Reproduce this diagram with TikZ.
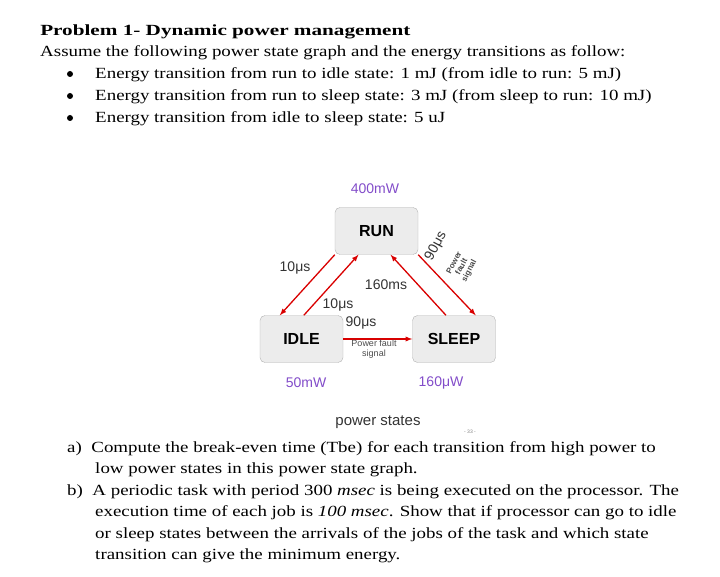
\documentclass[tikz,border=0pt]{standalone}
\usepackage{fontspec}
\setmainfont{Liberation Serif}
\newfontfamily\arialf{Liberation Sans}
\begin{document}
\begin{tikzpicture}[x=1pt,y=-1pt,
  txt/.style={anchor=base west,inner sep=0pt,xscale=1.22,font=\fontsize{15.5}{18}\selectfont},
  state/.style={draw=gray!60,fill=gray!15,rounded corners=5pt,minimum width=83pt,minimum height=47pt,font=\arialf\bfseries\fontsize{16}{18}\selectfont},
  pw/.style={font=\arialf\fontsize{14}{16}\selectfont,text=violet!60!blue!70,inner sep=0pt},
  lab/.style={font=\arialf\fontsize{14}{16}\selectfont,text=black!80,inner sep=0pt},
  pf/.style={font=\arialf\fontsize{9}{10}\selectfont,text=black!70,align=center,inner sep=0pt},
  tr/.style={draw=red!85!black,line width=1.3pt,-latex}]
\useasboundingbox (0,0) rectangle (720,577);
\node[txt,font=\bfseries\fontsize{15.5}{18}\selectfont,xscale=1.12] (t0) at (40,36) {Problem 1- Dynamic power management};
\node[txt] (t1) at (40,57) {Assume the following power state graph and the energy transitions as follow:};
\foreach \y/\s [count=\i] in {79/{Energy transition from run to idle state: 1 mJ (from idle to run: 5 mJ)},101/{Energy transition from run to sleep state: 3 mJ (from sleep to run: 10 mJ)},123/{Energy transition from idle to sleep state: 5 uJ}}{
  \node[txt] (b\i) at (95,\y) {\s};
  \fill (70,\y-5) circle (3pt);
}
\node[state] (run) at (376.5,231) {RUN};
\node[state] (idle) at (301.5,339) {IDLE};
\node[state] (sleep) at (454,339) {SLEEP};
\draw[tr] (run.south west) -- ([xshift=20pt]idle.north west);
\draw[tr] ([xshift=44pt]idle.north west) -- ([xshift=-18pt]run.south);
\draw[tr] ([xshift=-8pt]sleep.north) -- ([xshift=14pt]run.south);
\draw[tr] (run.south east) -- ([xshift=-20pt]sleep.north east);
\draw[tr] (idle.east) -- (sleep.west);
\node[pw] (p1) at (375,189) {400mW};
\node[pw] (p2) at (306,383) {50mW};
\node[pw] (p3) at (441,383) {160μW};
\node[lab] (l1) at (295,268) {10μs};
\node[lab] (l2) at (386,285) {160ms};
\node[lab] (l3) at (338,305) {10μs};
\node[lab] (l4) at (361,323) {90μs};
\node[pf] (l5) at (374,349) {Power fault\\signal};
\node[lab,rotate=62] (l6) at (436,246) {90μs};
\node[pf,rotate=62,font=\arialf\bfseries\fontsize{8}{8.5}\selectfont] (l7) at (462,267) {Power\\fault\\signal};
\node[lab,font=\arialf\fontsize{15}{17}\selectfont] (ps) at (378,422) {power states};
\node[font=\arialf\fontsize{5}{6}\selectfont,text=gray] (pg) at (470,432) {- 33 -};
\node[txt] (a1) at (67,452) {a)\ \ Compute the break-even time (Tbe) for each transition from high power to};
\node[txt] (a2) at (95,473.5) {low power states in this power state graph.};
\node[txt] (c1) at (67,495) {b)\ \ A periodic task with period 300 \textit{msec} is being executed on the processor. The};
\node[txt] (c2) at (95,516.5) {execution time of each job is \textit{100 msec}. Show that if processor can go to idle};
\node[txt] (c3) at (95,538) {or sleep states between the arrivals of the jobs of the task and which state};
\node[txt] (c4) at (95,559.5) {transition can give the minimum energy.};
\end{tikzpicture}
\end{document}
